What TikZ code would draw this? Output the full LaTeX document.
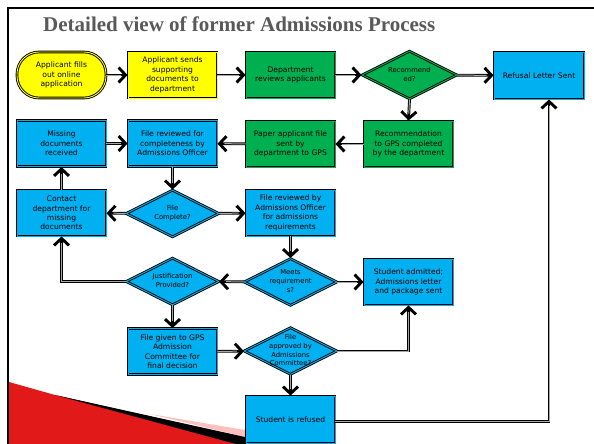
\documentclass[tikz,border=0pt]{standalone}
\usepackage{fontspec}
\setmainfont{DejaVu Sans}
\newfontfamily\titlefont{Liberation Serif}
\usetikzlibrary{shapes.geometric,arrows.meta}
\definecolor{yel}{RGB}{255,255,0}
\definecolor{grn}{RGB}{0,176,80}
\definecolor{blu}{RGB}{0,176,240}
\definecolor{ttl}{RGB}{89,89,89}
\definecolor{slidered}{RGB}{225,25,25}
\newcommand\dtxt[1]{\makebox[0pt]{\smash{\raisebox{-1.7pt}{\begin{tabular}{@{}c@{}}#1\end{tabular}}}}}
\begin{document}
\begin{tikzpicture}[x=1pt,y=-1pt,
  box/.style={draw=black, line width=0.9pt, double distance=0.9pt, rectangle,
    minimum width=89pt, minimum height=46pt, inner sep=1pt, align=center,
    font=\fontsize{7.6}{9.4}\selectfont},
  yelbox/.style={box, fill=yel, double=yel},
  grnbox/.style={box, fill=grn, double=grn},
  blubox/.style={box, fill=blu, double=blu},
  dia/.style={draw=black, line width=0.9pt, double=blu, double distance=0.9pt,
    diamond, inner sep=0pt, fill=blu, minimum width=93pt, minimum height=47pt,
    font=\fontsize{6.8}{8.8}\selectfont},
  conn/.style={line width=2.8pt, -{Straight Barb[length=7pt,width=15pt,line width=2.9pt]},
    postaction={draw=gray!70, line width=1pt, -, shorten >=7pt}},
]
\useasboundingbox (0,0) rectangle (594,444);
% slide decoration
\fill[slidered] (9,382) -- (55,395) -- (245,438) -- (245,444) -- (9,444) -- cycle;
\fill[red!25] (150,414) -- (245,430) -- (245,437) -- cycle;
\fill[black] (55,395) -- (245,437) -- (245,444) -- (236,444) -- cycle;
\draw[line width=2pt] (594,8) -- (8,8) -- (8,444);
% title
\node[anchor=base west, inner sep=0pt, text=ttl,
  font=\titlefont\bfseries\fontsize{21}{24}\selectfont] (title) at (43,32)
  {Detailed view of former Admissions Process};
% row 1
\node[yelbox, rounded corners=22pt] (start) at (61.5,75) {Applicant fills\\out online\\application};
\node[yelbox] (sends) at (172.5,75) {Applicant sends\\supporting\\documents to\\department};
\node[grnbox] (dept) at (290.5,75) {Department\\reviews applicants};
\node[dia, fill=grn, double=grn, minimum width=95pt, minimum height=48pt] (recq) at (409.5,75) {\dtxt{Recommend\\ed?}};
\node[blubox, minimum width=90pt, minimum height=47pt] (refusal) at (539,75.5) {Refusal Letter Sent};
% row 2
\node[blubox] (missing) at (61.5,143.5) {Missing\\documents\\received};
\node[blubox] (complete) at (172.5,143.5) {File reviewed for\\completeness by\\Admissions Officer};
\node[grnbox] (paper) at (290.5,144) {Paper applicant file\\sent by\\department to GPS};
\node[grnbox] (recgps) at (408.5,144) {Recommendation\\to GPS completed\\by the department};
% row 3
\node[blubox] (contact) at (61.5,213) {Contact\\department for\\missing\\documents};
\node[dia] (completeq) at (172.5,213.5) {\dtxt{File\\Complete?}};
\node[blubox] (reviewao) at (290.5,213) {File reviewed by\\Admissions Officer\\for admissions\\requirements};
% row 4
\node[dia] (justq) at (172.5,281.5) {\dtxt{Justification\\Provided?}};
\node[dia] (meetsq) at (290.5,282) {\dtxt{Meets\\requirement\\s?}};
\node[blubox] (admitted) at (408.5,282) {Student admitted;\\Admissions letter\\and package sent};
% row 5
\node[blubox] (gps) at (172.5,351.5) {File given to GPS\\Admission\\Committee for\\final decision};
\node[dia] (approvedq) at (290.5,351) {\dtxt{File\\approved by\\Admissions\\Committee?}};
% row 6
\node[blubox, minimum height=47pt] (refused) at (290.5,419.5) {Student is refused};
\coordinate (c1) at (549,421.5);
% connectors
\draw[conn] (start) -- (sends);
\draw[conn] (sends) -- (dept);
\draw[conn] (dept) -- (recq);
\draw[conn] (recq) -- (refusal);
\draw[conn] (recq.south) -- (recgps.north);
\draw[conn] (recgps) -- (paper);
\draw[conn] (paper) -- (complete);
\draw[conn] (missing) -- (complete);
\draw[conn] (complete.south) -- (completeq.north);
\draw[conn] (completeq) -- (contact);
\draw[conn] (completeq) -- (reviewao);
\draw[conn] (contact.north) -- (missing.south);
\draw[conn] (reviewao.south) -- (meetsq.north);
\draw[conn] (meetsq) -- (admitted);
\draw[conn] (meetsq) -- (justq);
\draw[conn] (justq.west) -| (contact.south);
\draw[conn] (justq.south) -- (gps.north);
\draw[conn] (gps) -- (approvedq);
\draw[conn] (approvedq.east) -| (admitted.south);
\draw[conn] (approvedq.south) -- (refused.north);
\draw[conn] (refused.east |- c1) -- (c1) -- (c1 |- refusal.south);
\end{tikzpicture}
\end{document}
